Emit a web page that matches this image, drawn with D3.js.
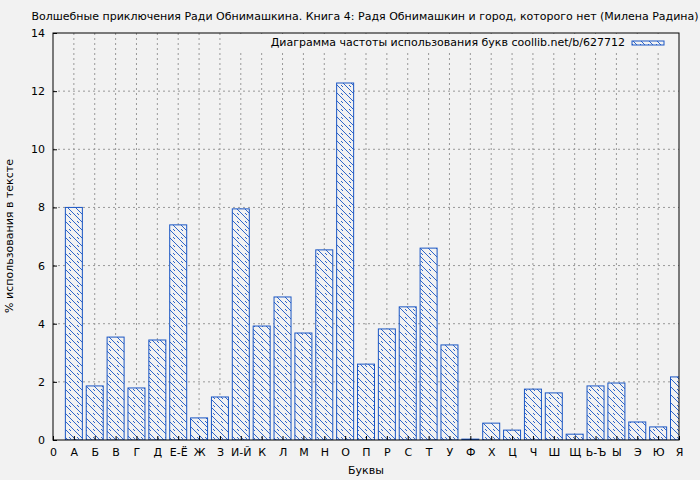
<!DOCTYPE html>
<html><head><meta charset="utf-8">
<script src="https://cdn.jsdelivr.net/npm/d3@7"></script>
<style>body{margin:0;background:#f2f2f2;font-family:"DejaVu Sans",sans-serif}</style>
</head><body><svg id="c" width="700" height="480"></svg>
<script>
const letters = ["А","Б","В","Г","Д","Е-Ё","Ж","З","И-Й","К","Л","М","Н","О","П","Р","С","Т","У","Ф","Х","Ц","Ч","Ш","Щ","Ь-Ъ","Ы","Э","Ю","Я"];
const freq = [8.0,1.86,3.54,1.79,3.44,7.40,0.76,1.48,7.95,3.92,4.92,3.68,6.54,12.28,2.61,3.82,4.58,6.60,3.27,0.03,0.58,0.34,1.75,1.62,0.2,1.86,1.96,0.62,0.45,2.17];
const yTicks = [0,2,4,6,8,10,12,14];

const margin = {top: 33, right: 21, bottom: 40, left: 53};
const width = 700 - margin.left - margin.right;
const height = 480 - margin.top - margin.bottom;
const blue = "#1a56c4";

const svg = d3.select("#c");
svg.append("rect").attr("width", 700).attr("height", 480).attr("fill", "#f2f2f2");

const defs = svg.append("defs");
const pat = defs.append("pattern").attr("id", "hatch").attr("patternUnits", "userSpaceOnUse")
    .attr("width", 8).attr("height", 8);
pat.append("rect").attr("width", 8).attr("height", 8).attr("fill", "#f2f2f2");
pat.append("path").attr("d", "M-2,2 l4,4 M0,0 l8,8 M6,-2 l4,4").attr("stroke", blue).attr("stroke-width", 0.9);
defs.append("clipPath").attr("id", "clip").append("rect").attr("width", width).attr("height", height);

const x = d3.scaleLinear().domain([0, 30]).range([0, width]);
const y = d3.scaleLinear().domain([0, 14]).range([height, 0]);

const g = svg.append("g").attr("transform", `translate(${margin.left},${margin.top})`);

g.append("g").selectAll("line").data(d3.range(1, 30)).join("line")
    .attr("x1", d => x(d)).attr("x2", d => x(d)).attr("y1", 0).attr("y2", height)
    .attr("stroke", "#999").attr("stroke-dasharray", "2,3");
g.append("g").selectAll("line").data(yTicks.slice(1, -1)).join("line")
    .attr("x1", 0).attr("x2", width).attr("y1", d => y(d)).attr("y2", d => y(d))
    .attr("stroke", "#999").attr("stroke-dasharray", "2,3");

const bw = 17;
g.append("g").attr("clip-path", "url(#clip)").selectAll("rect").data(freq).join("rect")
    .attr("x", (d, i) => x(i + 1) - bw / 2).attr("width", bw)
    .attr("y", d => y(d)).attr("height", d => height - y(d))
    .attr("fill", "url(#hatch)").attr("stroke", blue).attr("stroke-width", 1);

g.append("rect").attr("width", width).attr("height", height).attr("fill", "none").attr("stroke", "#000");

const xAxis = g.append("g").attr("transform", `translate(0,${height})`)
    .call(d3.axisBottom(x).tickValues(d3.range(0, 31)).tickSize(-4).tickPadding(8)
        .tickFormat(d => d === 0 ? "0" : letters[d - 1]));
const yAxis = g.append("g")
    .call(d3.axisLeft(y).tickValues(yTicks).tickSize(-4).tickPadding(8));
[xAxis, yAxis].forEach(a => {
    a.select(".domain").remove();
    a.selectAll("text").attr("font-size", 11).attr("font-family", "DejaVu Sans").attr("fill", "#000");
});

svg.append("text").attr("x", 365).attr("y", 20).attr("text-anchor", "middle").attr("font-size", 11)
    .text("Волшебные приключения Ради Обнимашкина. Книга 4: Радя Обнимашкин и город, которого нет (Милена Радина)");
svg.append("text").attr("x", margin.left + width / 2).attr("y", 474).attr("text-anchor", "middle").attr("font-size", 11)
    .text("Буквы");
svg.append("text").attr("transform", "translate(13,236) rotate(-90)").attr("text-anchor", "middle").attr("font-size", 11)
    .text("% использования в тексте");

const lg = svg.append("g");
lg.append("rect").attr("x", 240).attr("y", 34).attr("width", 436).attr("height", 18).attr("fill", "#f2f2f2");
lg.append("text").attr("x", 625).attr("y", 46).attr("text-anchor", "end").attr("font-size", 11)
    .text("Диаграмма частоты использования букв coollib.net/b/627712");
lg.append("rect").attr("x", 632).attr("y", 41).attr("width", 32).attr("height", 4)
    .attr("fill", "url(#hatch)").attr("stroke", blue);
</script></body></html>
